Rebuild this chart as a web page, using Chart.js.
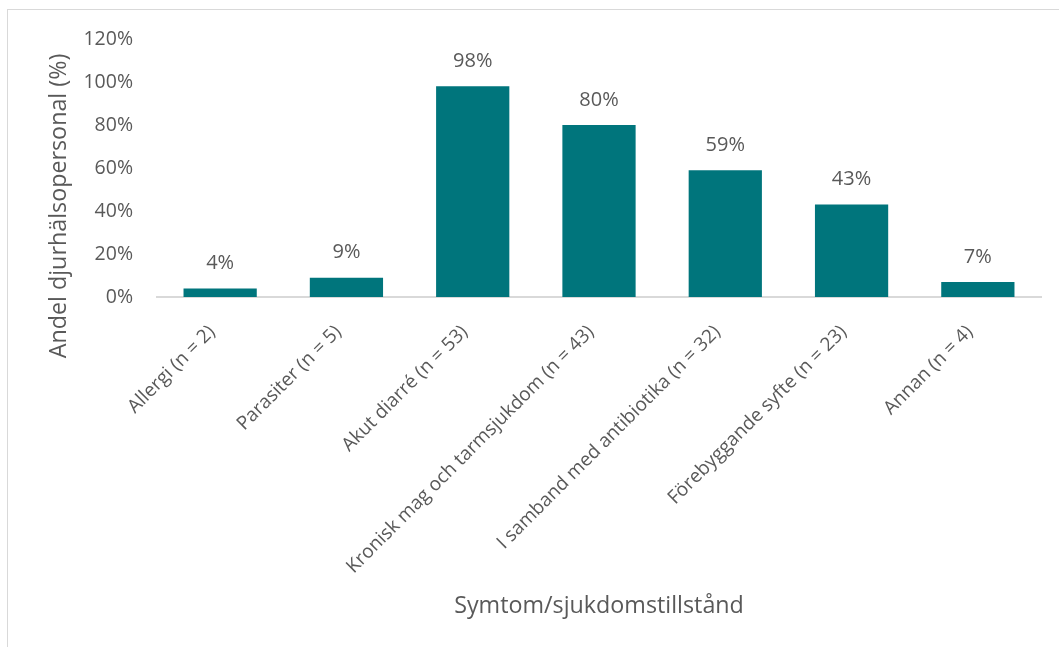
<!DOCTYPE html>
<html>
<head>
<meta charset="utf-8">
<script src="https://cdn.jsdelivr.net/npm/chart.js@4"></script>
<style>
  html, body { margin: 0; padding: 0; background: #fff; }
  #wrap { position: relative; width: 1059px; height: 647px; overflow: hidden; }
  #frame { position: absolute; left: 7px; top: 9px; width: 1070px; height: 660px; border: 1px solid #d9d9d9; box-sizing: border-box; }
  #myChart { position: absolute; left: 0; top: 0; }
</style>
</head>
<body>
<div id="wrap">
  <div id="frame"></div>
  <canvas id="myChart" width="1059" height="647"></canvas>
</div>
<script>
'use strict';
// categories and values
var categories = ['Allergi (n = 2)', 'Parasiter (n = 5)', 'Akut diarré (n = 53)',
  'Kronisk mag och tarmsjukdom (n = 43)', 'I samband med antibiotika (n = 32)',
  'Förebyggande syfte (n = 23)', 'Annan (n = 4)'];
var percentValues = [4, 9, 98, 80, 59, 43, 7];
var yTicks = [0, 20, 40, 60, 80, 100, 120];
var yTitle = 'Andel djurhälsopersonal (%)';
var xTitle = 'Symtom/sjukdomstillstånd';

var textColor = '#595959';
var fontName = '"Open Sans", sans-serif';

// draws the % over every bar, plus the y title (Excel centres it on the whole chart, not the plot)
var valueLabels = {
  id: 'valueLabels',
  afterDatasetsDraw: function (chart) {
    let ctx = chart.ctx;
    let meta = chart.getDatasetMeta(0);
    ctx.save();
    ctx.fillStyle = textColor;
    ctx.font = '20px ' + fontName;
    ctx.textAlign = 'center';
    ctx.textBaseline = 'middle';
    meta.data.forEach(function (bar, i) {
      ctx.fillText(percentValues[i] + '%', bar.x, bar.y - 25);
    });
    ctx.translate(59, 206);
    ctx.rotate(-Math.PI / 2);
    ctx.font = '23.3px ' + fontName;
    ctx.fillText(yTitle, 0, 0);
    ctx.restore();
  }
};

let ctx = document.getElementById('myChart').getContext('2d');
// eslint-disable-next-line no-undef
new Chart(ctx, {
  type: 'bar',
  data: {
    labels: categories,
    datasets: [{
      label: 'Andel',
      data: percentValues,
      backgroundColor: '#00757c',
      borderWidth: 0,
      barPercentage: 0.58,
      categoryPercentage: 1
    }]
  },
  options: {
    responsive: false,
    animation: false,
    layout: { padding: { left: 44, top: 39, right: 18, bottom: 27 } },
    plugins: { legend: { display: false }, tooltip: { enabled: false } },
    scales: {
      x: {
        grid: { display: false, drawTicks: false },
        border: { display: true, color: '#d9d9d9', width: 2 },
        ticks: {
          color: textColor,
          font: { family: fontName, size: 19 },
          minRotation: 45,
          maxRotation: 45,
          autoSkip: false,
          labelOffset: -8,
          padding: 24
        },
        title: {
          display: true,
          text: xTitle,
          color: textColor,
          font: { family: fontName, size: 23.3 },
          padding: 0
        },
        afterFit: function (axis) { axis.height = 647 - 297 - 27; }
      },
      y: {
        min: 0,
        max: 120,
        grid: { display: false, drawTicks: false },
        border: { display: false },
        afterBuildTicks: function (axis) {
          axis.ticks = yTicks.map(function (v) { return { value: v }; });
        },
        ticks: {
          color: textColor,
          font: { family: fontName, size: 19.5 },
          padding: 24,
          callback: function (v) { return v + '%'; }
        },
        afterFit: function (axis) { axis.width = 157 - 44; }
      }
    }
  },
  plugins: [valueLabels]
});
</script>
</body>
</html>
